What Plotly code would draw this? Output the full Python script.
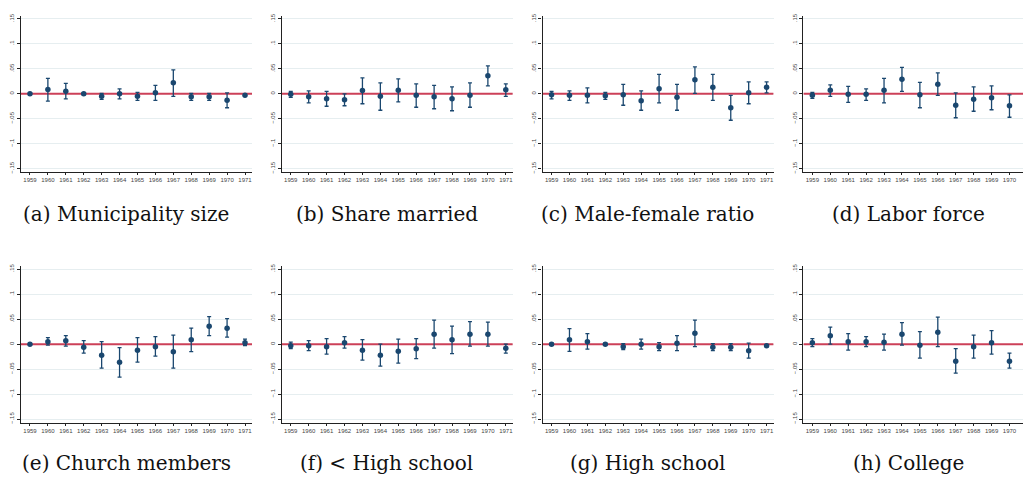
import plotly.graph_objects as go

W, H = 1023, 478

years = list(range(1959, 1972))
year_labels = [str(y) for y in years]
y_tickvals = [-0.15, -0.1, -0.05, 0, 0.05, 0.1, 0.15]
y_ticktext = ["\u2212.15", "\u2212.1", "\u2212.05", "0", ".05", ".1", ".15"]
ref_value = 0.0

captions = ["(a) Municipality size", "(b) Share married", "(c) Male-female ratio", "(d) Labor force",
            "(e) Church members", "(f) < High school", "(g) High school", "(h) College"]

coef_a = [0.0, 0.0086, 0.005, 0.0, -0.005, 0.0, -0.005, 0.002, 0.022, -0.006, -0.006, -0.013, -0.003]
lo_a = [-0.002, -0.0145, -0.01, -0.002, -0.011, -0.01, -0.013, -0.013, -0.005, -0.013, -0.013, -0.028, -0.005]
hi_a = [0.002, 0.031, 0.021, 0.002, 0.001, 0.01, 0.003, 0.017, 0.048, 0.001, 0.001, 0.002, -0.001]

coef_b = [-0.001, -0.006, -0.01, -0.012, 0.0066, -0.005, 0.007, -0.003, -0.006, -0.01, -0.003, 0.036, 0.008]
lo_b = [-0.007, -0.018, -0.025, -0.024, -0.02, -0.033, -0.016, -0.027, -0.03, -0.034, -0.027, 0.016, -0.005]
hi_b = [0.005, 0.006, 0.005, 0.0, 0.032, 0.022, 0.03, 0.02, 0.017, 0.014, 0.022, 0.056, 0.02]

coef_c = [-0.002, -0.003, -0.003, -0.004, -0.002, -0.014, 0.01, -0.007, 0.028, 0.013, -0.028, 0.002, 0.013]
lo_c = [-0.01, -0.013, -0.018, -0.011, -0.023, -0.033, -0.018, -0.033, 0.001, -0.013, -0.053, -0.02, 0.002]
hi_c = [0.005, 0.006, 0.012, 0.003, 0.019, 0.006, 0.039, 0.019, 0.054, 0.039, -0.003, 0.024, 0.024]

coef_d = [-0.003, 0.007, -0.001, -0.001, 0.007, 0.029, -0.002, 0.019, -0.023, -0.011, -0.008, -0.024, 0.011]
lo_d = [-0.009, -0.005, -0.017, -0.013, -0.018, 0.005, -0.028, -0.003, -0.048, -0.035, -0.032, -0.047, 0.001]
hi_d = [0.003, 0.018, 0.015, 0.01, 0.031, 0.053, 0.023, 0.042, 0.002, 0.014, 0.016, -0.002, 0.02]

coef_e = [0.0, 0.005, 0.007, -0.006, -0.022, -0.036, -0.012, -0.005, -0.015, 0.009, 0.036, 0.032, 0.003]
lo_e = [-0.002, -0.002, -0.004, -0.018, -0.048, -0.066, -0.036, -0.024, -0.048, -0.015, 0.017, 0.014, -0.003]
hi_e = [0.002, 0.013, 0.017, 0.007, 0.005, -0.007, 0.013, 0.015, 0.018, 0.032, 0.055, 0.051, 0.01]

coef_f = [-0.003, -0.003, -0.005, 0.003, -0.012, -0.022, -0.014, -0.009, 0.02, 0.009, 0.02, 0.02, -0.008]
lo_f = [-0.009, -0.013, -0.02, -0.008, -0.032, -0.044, -0.038, -0.029, -0.008, -0.019, -0.004, -0.004, -0.018]
hi_f = [0.004, 0.007, 0.011, 0.015, 0.009, 0.0, 0.01, 0.011, 0.048, 0.036, 0.045, 0.044, 0.0]

coef_g = [0.0, 0.0086, 0.005, 0.0, -0.005, 0.0, -0.005, 0.002, 0.022, -0.006, -0.006, -0.013, -0.003]
lo_g = [-0.002, -0.0145, -0.01, -0.002, -0.011, -0.01, -0.013, -0.013, -0.005, -0.013, -0.013, -0.028, -0.005]
hi_g = [0.002, 0.031, 0.021, 0.002, 0.001, 0.01, 0.003, 0.017, 0.048, 0.001, 0.001, 0.002, -0.001]

coef_h = [0.003, 0.017, 0.005, 0.005, 0.004, 0.02, -0.002, 0.024, -0.034, -0.005, 0.003, -0.034, -0.008]
lo_h = [-0.005, 0.0, -0.012, -0.005, -0.012, -0.002, -0.028, -0.005, -0.058, -0.028, -0.02, -0.048, -0.018]
hi_h = [0.011, 0.034, 0.021, 0.015, 0.02, 0.043, 0.025, 0.054, -0.009, 0.018, 0.027, -0.018, 0.0]

panels = [(coef_a, lo_a, hi_a), (coef_b, lo_b, hi_b), (coef_c, lo_c, hi_c), (coef_d, lo_d, hi_d),
          (coef_e, lo_e, hi_e), (coef_f, lo_f, hi_f), (coef_g, lo_g, hi_g), (coef_h, lo_h, hi_h)]

NAVY = "#1a476f"
RED = "#cc4058"
GRID = "#e6eef0"
TICKFONT = dict(family="Liberation Sans, Arial, sans-serif", size=6, color="#444444")

px_per_year = 17.92
step = 260.8
x_left0 = 21.0
rows_pix = [(13, 171), (266, 424)]
yrange = [-0.157, 0.156]

fig = go.Figure()
layout = dict(width=W, height=H, margin=dict(l=0, r=0, t=0, b=0),
              paper_bgcolor="white", plot_bgcolor="white", showlegend=False,
              annotations=[])

for i, (coef, lo, hi) in enumerate(panels):
    r, c = divmod(i, 4)
    k = i + 1
    xa = "x" if k == 1 else f"x{k}"
    ya = "y" if k == 1 else f"y{k}"
    left = x_left0 + c * step
    right = min(left + 231, W)
    xr = [1958.5, 1958.5 + (right - left) / px_per_year]
    top, bot = rows_pix[r]
    err_plus = [h - m for h, m in zip(hi, coef)]
    err_minus = [m - l for m, l in zip(coef, lo)]
    # horizontal reference line at zero spanning the axis range
    fig.add_trace(go.Scatter(
        x=xr, y=[ref_value, ref_value], mode="lines", xaxis=xa, yaxis=ya,
        line=dict(color=RED, width=2), hoverinfo="skip",
    ))
    fig.add_trace(go.Scatter(
        x=years, y=coef, mode="markers", xaxis=xa, yaxis=ya,
        marker=dict(color=NAVY, size=5.5, symbol="circle"),
        error_y=dict(type="data", array=err_plus, arrayminus=err_minus,
                     color=NAVY, thickness=1.3, width=2),
    ))
    layout["xaxis" if k == 1 else f"xaxis{k}"] = dict(
        domain=[left / W, right / W], range=xr, anchor=ya,
        tickmode="array", tickvals=years, ticktext=year_labels,
        tickfont=TICKFONT, ticks="outside", ticklen=2, tickwidth=0.8, tickcolor="#222",
        showline=True, linecolor="#222", linewidth=1, showgrid=False, zeroline=False,
        fixedrange=True,
    )
    layout["yaxis" if k == 1 else f"yaxis{k}"] = dict(
        domain=[1 - bot / H, 1 - top / H], range=yrange, anchor=xa,
        tickmode="array", tickvals=y_tickvals, ticktext=y_ticktext, tickangle=-90,
        tickfont=TICKFONT, ticks="outside", ticklen=3, tickwidth=0.8, tickcolor="#222",
        showline=True, linecolor="#222", linewidth=1.3, showgrid=True, gridcolor=GRID,
        gridwidth=1, zeroline=False, fixedrange=True,
    )
    cap_y = [213, 465][r]
    layout["annotations"].append(dict(
        text=captions[i], xref="paper", yref="paper",
        x=(126 + c * step) / W, y=1 - cap_y / H, xanchor="center", yanchor="middle",
        showarrow=False,
        font=dict(family="DejaVu Serif, serif", size=20, color="#111111"),
    ))

fig.update_layout(**layout)
fig.write_html("out.html")
